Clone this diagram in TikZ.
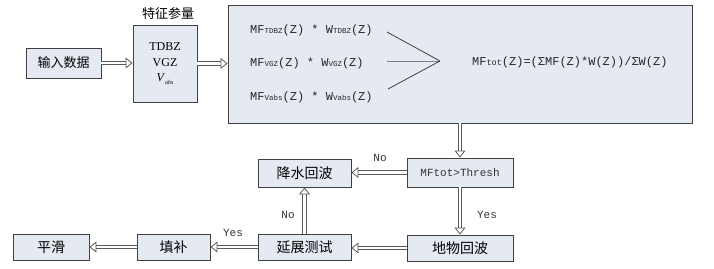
\documentclass[tikz,border=0pt]{standalone}
\usepackage{fontspec}
\setmainfont{Liberation Serif}
\setmonofont{Liberation Mono}
\newfontfamily\cjk{Noto Sans CJK SC}
\usetikzlibrary{arrows.meta}
\definecolor{boxfill}{HTML}{E5EAF2}
\definecolor{boxline}{HTML}{404040}
\definecolor{arrline}{HTML}{5A5A5A}
\begin{document}
\begin{tikzpicture}[x=1pt,y=-1pt,
  box/.style={draw=boxline, fill=boxfill, line width=0.9pt, inner sep=0pt, anchor=center},
  cn/.style={font=\cjk\fontsize{13}{15}\selectfont},
  cnb/.style={font=\cjk\fontsize{14}{16}\selectfont},
  lbl/.style={font=\ttfamily\fontsize{11}{13}\selectfont, text=black!80, inner sep=1pt},
  harrow/.style={draw=arrline, line width=0.8pt, double=white, double distance=2.6pt,
     -{Triangle[open, length=7pt, width=11pt, line width=0.8pt]}},
  mono/.style={font=\ttfamily\fontsize{12}{14}\selectfont, text=black!85, inner sep=0pt},
  cvg/.style={draw=boxline, line width=0.8pt}
]
\useasboundingbox (0,0) rectangle (714,268);

% top row
\node[box, cn, minimum width=75pt, minimum height=30pt] (in) at (63.5,63) {输入数据};
\node[box, minimum width=64pt, minimum height=77pt, align=center,
      font=\fontsize{12}{15.5}\selectfont] (feat) at (165,63.5)
      {TDBZ\\VGZ\\\textit{V}\raisebox{-0.4ex}{\fontsize{6}{7}\selectfont\textit{abs}}};
\node[cn, inner sep=0pt] (featlbl) at (168,14) {特征参量};
\node[box, minimum width=464pt, minimum height=118pt] (big) at (460,64) {};

% contents of the big box
\node[mono, anchor=west] (t1) at (250,30) {MF{\fontsize{7.5}{8}\selectfont TDBZ}(Z) * W{\fontsize{7.5}{8}\selectfont TDBZ}(Z)};
\node[mono, anchor=west] (t2) at (250,63) {MF{\fontsize{7.5}{8}\selectfont VGZ}(Z) * W{\fontsize{7.5}{8}\selectfont VGZ}(Z)};
\node[mono, anchor=west] (t3) at (250,97) {MF{\fontsize{7.5}{8}\selectfont Vabs}(Z) * W{\fontsize{7.5}{8}\selectfont Vabs}(Z)};
\coordinate (c0) at (440,61);
\coordinate (c1) at (387,32);
\coordinate (c2) at (387,61);
\coordinate (c3) at (388,89);
\draw[cvg] (c1) -- (c0);
\draw[cvg, draw=gray] (c2) -- (c0);
\draw[cvg] (c3) -- (c0);
\node[mono, anchor=west] (f) at (472,62) {MF{\fontsize{8.5}{9}\selectfont tot}(Z)=(ΣMF(Z)*W(Z))/ΣW(Z)};

% lower boxes
\node[box, lbl, font=\ttfamily\fontsize{11}{13}\selectfont, minimum width=106pt, minimum height=29pt] (mf) at (460,172.5) {MFtot>Thresh};
\node[box, cnb, minimum width=106pt, minimum height=26pt] (clut) at (460,248) {地物回波};
\node[box, cnb, minimum width=93pt, minimum height=28pt] (rain) at (304.5,173) {降水回波};
\node[box, cnb, minimum width=93pt, minimum height=26pt] (ext) at (304.5,247) {延展测试};
\node[box, cnb, minimum width=73pt, minimum height=26pt] (fill) at (173.5,247) {填补};
\node[box, cnb, minimum width=76pt, minimum height=26pt] (smooth) at (51,247) {平滑};

% connectors
\draw[harrow] (in.east) -- (in.east -| feat.west);
\draw[harrow] (feat.east) -- (feat.east -| big.west);
\draw[harrow] (big.south -| mf.north) -- (mf.north);
\draw[harrow] (mf.west) -- (mf.west -| rain.east);
\draw[harrow] (mf.south) -- (clut.north);
\draw[harrow] (clut.west) -- (clut.west -| ext.east);
\draw[harrow] (ext.north) -- (rain.south);
\draw[harrow] (ext.west) -- (ext.west -| fill.east);
\draw[harrow] (fill.west) -- (fill.west -| smooth.east);

% labels
\node[lbl] (no1) at (380,158) {No};
\node[lbl] (yes1) at (487,215) {Yes};
\node[lbl] (no2) at (288,215) {No};
\node[lbl] (yes2) at (233,233) {Yes};
\end{tikzpicture}
\end{document}
